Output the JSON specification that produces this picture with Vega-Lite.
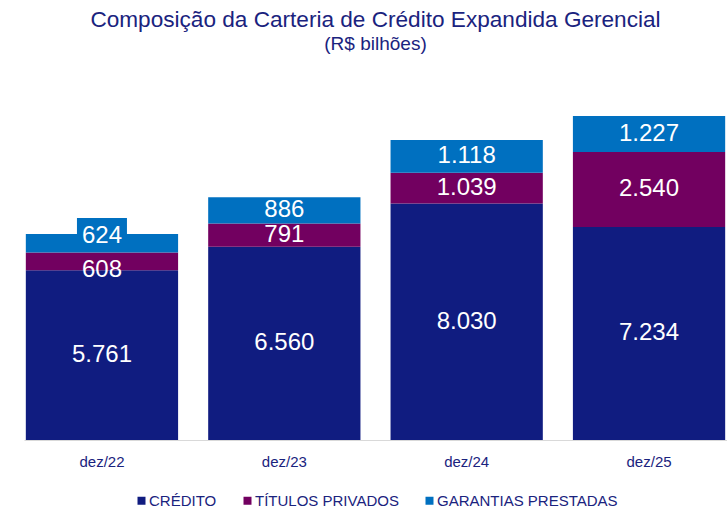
{
  "$schema": "https://vega.github.io/schema/vega-lite/v6.json",
  "width": 703,
  "height": 380,
  "autosize": {"type": "none"},
  "padding": {"left": 24, "top": 60, "right": 0, "bottom": 68},
  "background": "white",
  "title": {
    "text": "Composição da Carteria de Crédito Expandida Gerencial",
    "subtitle": "(R$ bilhões)",
    "anchor": "middle",
    "offset": 6,
    "font": "Liberation Sans",
    "fontSize": 22.6,
    "fontWeight": "normal",
    "color": "#1a237e",
    "subtitleFont": "Liberation Sans",
    "subtitleFontSize": 19,
    "subtitleColor": "#1a237e",
    "subtitlePadding": 3
  },
  "config": {
    "view": {"stroke": null},
    "locale": {"number": {"decimal": ",", "thousands": ".", "grouping": [3], "currency": ["R$", ""]}}
  },
  "data": {
    "values": [
      {"ano": "dez/22", "serie": "CRÉDITO", "ordem": 1, "valor": 5761},
      {"ano": "dez/22", "serie": "TÍTULOS PRIVADOS", "ordem": 2, "valor": 608},
      {"ano": "dez/22", "serie": "GARANTIAS PRESTADAS", "ordem": 3, "valor": 624},
      {"ano": "dez/23", "serie": "CRÉDITO", "ordem": 1, "valor": 6560},
      {"ano": "dez/23", "serie": "TÍTULOS PRIVADOS", "ordem": 2, "valor": 791},
      {"ano": "dez/23", "serie": "GARANTIAS PRESTADAS", "ordem": 3, "valor": 886},
      {"ano": "dez/24", "serie": "CRÉDITO", "ordem": 1, "valor": 8030},
      {"ano": "dez/24", "serie": "TÍTULOS PRIVADOS", "ordem": 2, "valor": 1039},
      {"ano": "dez/24", "serie": "GARANTIAS PRESTADAS", "ordem": 3, "valor": 1118},
      {"ano": "dez/25", "serie": "CRÉDITO", "ordem": 1, "valor": 7234},
      {"ano": "dez/25", "serie": "TÍTULOS PRIVADOS", "ordem": 2, "valor": 2540},
      {"ano": "dez/25", "serie": "GARANTIAS PRESTADAS", "ordem": 3, "valor": 1227}
    ]
  },
  "encoding": {
    "x": {
      "field": "ano",
      "type": "nominal",
      "sort": null,
      "scale": {"paddingInner": 0.165, "paddingOuter": 0.01},
      "axis": {
        "title": null,
        "labelAngle": 0,
        "ticks": false,
        "domainColor": "#d9d9d9",
        "domainWidth": 1,
        "labelFont": "Liberation Sans",
        "labelFontSize": 15,
        "labelColor": "#1a237e",
        "labelPadding": 14
      }
    },
    "y": {
      "field": "valor",
      "type": "quantitative",
      "stack": "zero",
      "scale": {"domain": [0, 12900]},
      "axis": null
    },
    "order": {"field": "ordem", "type": "quantitative", "sort": "ascending"}
  },
  "layer": [
    {
      "mark": {"type": "bar"},
      "encoding": {
        "color": {
          "field": "serie",
          "type": "nominal",
          "scale": {
            "domain": ["CRÉDITO", "TÍTULOS PRIVADOS", "GARANTIAS PRESTADAS"],
            "range": ["#101c80", "#720060", "#0070c0"]
          },
          "legend": {
            "title": null,
            "orient": "none",
            "direction": "horizontal",
            "legendX": 110,
            "legendY": 433,
            "symbolType": "square",
            "symbolSize": 64,
            "symbolStrokeWidth": 0,
            "labelFont": "Liberation Sans",
            "labelFontSize": 15,
            "labelColor": "#1a237e",
            "labelOffset": 0,
            "labelLimit": 300,
            "columnPadding": 23
          }
        }
      }
    },
    {
      "mark": {
        "type": "bar",
        "color": "#0070c0",
        "width": 50,
        "yOffset": -16,
        "y2Offset": -10,
        "opacity": {"expr": "datum.ano == 'dez/22' && datum.serie == 'GARANTIAS PRESTADAS' ? 1 : 0"}
      },
      "encoding": {}
    },
    {
      "mark": {
        "type": "text",
        "color": "white",
        "font": "Liberation Sans",
        "fontSize": 24,
        "baseline": "middle",
        "dy": {"expr": "datum.ano == 'dez/22' ? (datum.serie == 'TÍTULOS PRIVADOS' ? 9 : (datum.serie == 'GARANTIAS PRESTADAS' ? -7 : 0)) : 0"}
      },
      "encoding": {
        "y": {"field": "valor", "type": "quantitative", "stack": "zero", "bandPosition": 0.5},
        "text": {"field": "valor", "type": "quantitative", "format": ",d"}
      }
    }
  ]
}
